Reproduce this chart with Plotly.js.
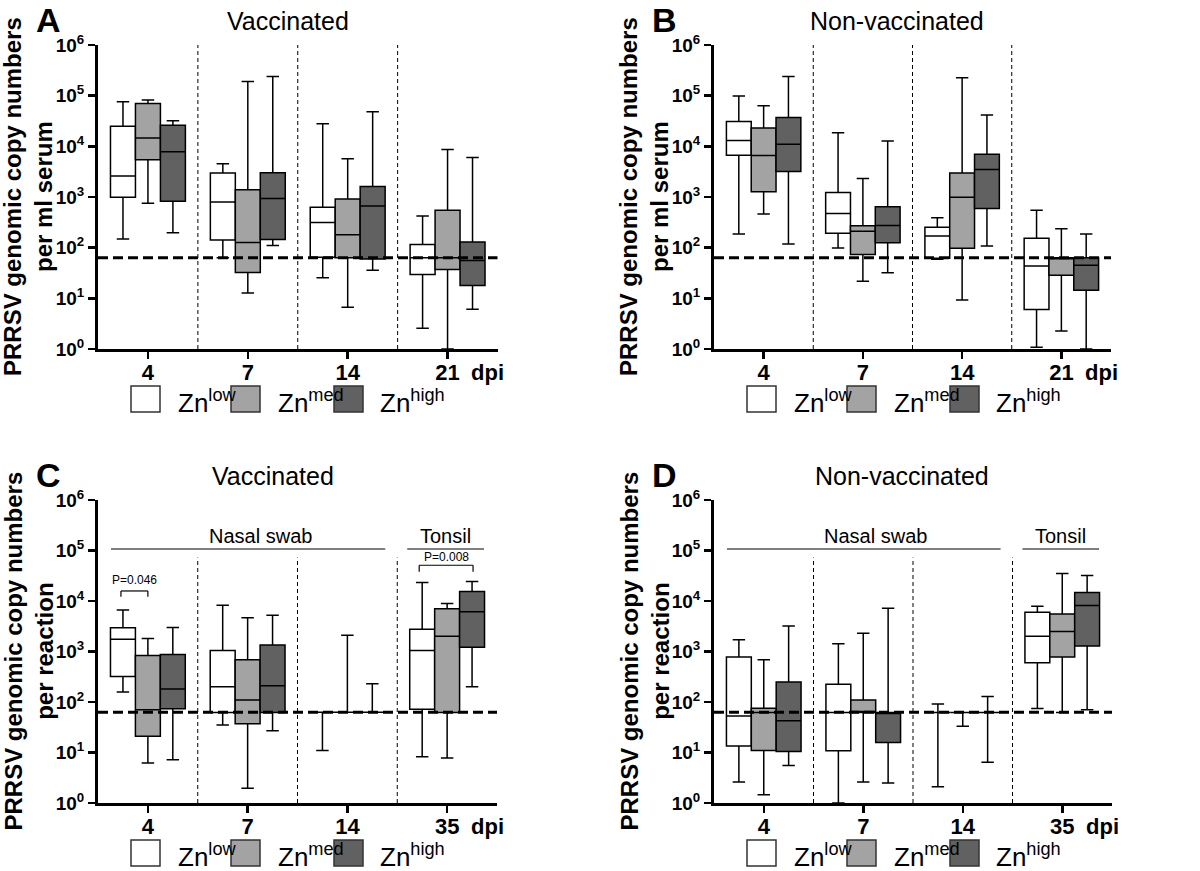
<!DOCTYPE html>
<html>
<head>
<meta charset="utf-8">
<script src="https://cdn.plot.ly/plotly-3.0.1.min.js"></script>
<style>
html,body{margin:0;padding:0;background:#fff;}
#chart{width:1200px;height:871px;}
</style>
</head>
<body>
<div id="chart"></div>
<script>
// ---------------- data ----------------
const serumDpi = ['4', '7', '14', '21'];
const swabDpi = ['4', '7', '14', '35'];
const groupKeys = ['low', 'med', 'high'];
const groupLabels = ['Zn<sup>low</sup>', 'Zn<sup>med</sup>', 'Zn<sup>high</sup>'];
const groupFills = ['#ffffff', '#a3a3a3', '#616161'];
const detectionLimit = 63;
const yTickVals = [1, 10, 100, 1000, 10000, 100000, 1000000];
const yTickText = ['10<sup>0</sup>', '10<sup>1</sup>', '10<sup>2</sup>', '10<sup>3</sup>', '10<sup>4</sup>', '10<sup>5</sup>', '10<sup>6</sup>'];

// Panel A: vaccinated, serum   (rows: Zn low / med / high; columns: dpi 4, 7, 14, 21)
const vacSerumLower  = [[148, 63, 25.6, 2.56], [750, 12.7, 6.7, 1], [198, 110, 35.7, 6.1]];
const vacSerumQ1     = [[990, 142, 65, 29.7], [5450, 32.5, 63, 37], [820, 145, 60, 18]];
const vacSerumMedian = [[2600, 800, 315, 63], [14600, 127, 180, 63], [7800, 930, 665, 56]];
const vacSerumQ3     = [[25000, 2970, 625, 116], [70000, 1390, 910, 550], [26000, 3020, 1620, 129]];
const vacSerumUpper  = [[76000, 4550, 28000, 420], [82000, 191000, 5700, 8700], [32000, 240000, 48000, 6000]];

// Panel B: non-vaccinated, serum
const nonSerumLower  = [[186, 98, 59, 1.08], [460, 21.7, 9.3, 2.26], [118, 32, 108, 1]];
const nonSerumQ1     = [[6700, 192, 61.5, 6.0], [1270, 73, 97, 28.5], [3200, 125, 590, 14.4]];
const nonSerumMedian = [[13000, 475, 170, 43.5], [6600, 210, 985, 63], [11000, 275, 3470, 45]];
const nonSerumQ3     = [[31000, 1220, 253, 153], [23000, 272, 2960, 63], [37000, 645, 6960, 63]];
const nonSerumUpper  = [[98000, 18600, 390, 550], [63000, 2330, 226000, 237], [240000, 12700, 41500, 186]];

// Panel C: vaccinated, nasal swab (4, 7, 14) and tonsil (35)
const vacSwabLower  = [[158, 34.9, 11, 8.2], [6.2, 1.95, 63, 7.8], [7.2, 27, 63, 200]];
const vacSwabQ1     = [[320, 62, 63, 72], [21, 37, 63, 62], [73.5, 62, 63, 1220]];
const vacSwabMedian = [[1740, 200, 63, 1050], [70, 110, 63, 2000], [180, 210, 63, 6100]];
const vacSwabQ3     = [[2940, 1050, 63, 2770], [830, 684, 63, 7050], [870, 1350, 63, 15400]];
const vacSwabUpper  = [[6600, 8200, 63, 23200], [1810, 4650, 2100, 8900], [2990, 5200, 230, 24300]];

// Panel D: non-vaccinated, nasal swab and tonsil
const nonSwabLower  = [[2.6, 1, 2.1, 74], [1.46, 2.6, 33, 62], [5.5, 2.5, 6.4, 70]];
const nonSwabQ1     = [[13.4, 10.8, 62, 600], [11, 62, 62, 775], [10.5, 15.8, 62, 1290]];
const nonSwabMedian = [[53, 62, 62, 2000], [62, 62, 62, 2500], [42.5, 62, 62, 8100]];
const nonSwabQ3     = [[780, 224, 62, 6000], [75.5, 110, 62, 5500], [250, 62, 62, 14700]];
const nonSwabUpper  = [[1700, 1420, 91, 7900], [684, 2300, 62, 35000], [3200, 7200, 129, 32000]];

const pValueLabels = ['P=0.046', 'P=0.008'];
const sampleLabels = ['Nasal swab', 'Tonsil'];

// ---------------- layout helpers ----------------
const W = 1200, H = 871;
const FONT = '"Liberation Sans", Arial, Helvetica, sans-serif';
const px = v => v / W;
const py = v => 1 - v / H;

const panels = [
  {s: '', cats: serumDpi, lo: vacSerumLower, q1: vacSerumQ1, med: vacSerumMedian, q3: vacSerumQ3, hi: vacSerumUpper,
   letter: 'A', title: 'Vaccinated', ytitle: 'PRRSV genomic copy numbers<br>per ml serum',
   left: 98, right: 497.5, top: 45, bottom: 349, titleX: 288, sepTop: 1, swab: false},
  {s: '2', cats: serumDpi, lo: nonSerumLower, q1: nonSerumQ1, med: nonSerumMedian, q3: nonSerumQ3, hi: nonSerumUpper,
   letter: 'B', title: 'Non-vaccinated', ytitle: 'PRRSV genomic copy numbers<br>per ml serum',
   left: 714, right: 1111, top: 45, bottom: 349, titleX: 897, sepTop: 1, swab: false},
  {s: '3', cats: swabDpi, lo: vacSwabLower, q1: vacSwabQ1, med: vacSwabMedian, q3: vacSwabQ3, hi: vacSwabUpper,
   letter: 'C', title: 'Vaccinated', ytitle: 'PRRSV genomic copy numbers<br>per reaction',
   left: 98, right: 497, top: 500, bottom: 803, titleX: 273, sepTop: 0.81, swab: true, pvals: true},
  {s: '4', cats: swabDpi, lo: nonSwabLower, q1: nonSwabQ1, med: nonSwabMedian, q3: nonSwabQ3, hi: nonSwabUpper,
   letter: 'D', title: 'Non-vaccinated', ytitle: 'PRRSV genomic copy numbers<br>per reaction',
   left: 714, right: 1112, top: 500, bottom: 803, titleX: 902, sepTop: 0.81, swab: true, pvals: false}
];

const traces = [];
const layout = {
  width: W, height: H,
  margin: {l: 0, r: 0, t: 0, b: 0},
  paper_bgcolor: '#fff', plot_bgcolor: 'rgba(0,0,0,0)',
  font: {family: FONT, color: '#000'},
  showlegend: false,
  boxmode: 'group', boxgap: 0.25, boxgroupgap: 0,
  shapes: [], annotations: []
};

panels.forEach(p => {
  const xa = 'x' + p.s, ya = 'y' + p.s;
  groupKeys.forEach((g, gi) => {
    traces.push({
      type: 'box', xaxis: xa, yaxis: ya,
      x: p.cats,
      lowerfence: p.lo[gi], q1: p.q1[gi], median: p.med[gi], q3: p.q3[gi], upperfence: p.hi[gi],
      offsetgroup: g, name: groupLabels[gi],
      fillcolor: groupFills[gi],
      line: {color: '#000', width: 1.5},
      whiskerwidth: 0.5, boxpoints: false, hoverinfo: 'skip', showlegend: false
    });
  });

  layout['xaxis' + p.s] = {
    domain: [px(p.left), px(p.right)], anchor: ya,
    type: 'category', range: [-0.5, 3.5],
    showline: true, linewidth: 3, linecolor: '#000',
    ticks: 'outside', ticklen: 7, tickwidth: 2.5, tickcolor: '#000',
    ticklabelstandoff: -5,
    tickfont: {family: FONT, size: 22, weight: 700, color: '#000'},
    showgrid: false, zeroline: false, fixedrange: true
  };
  layout['yaxis' + p.s] = {
    domain: [py(p.bottom), py(p.top)], anchor: xa,
    type: 'log', range: [0, 6],
    tickmode: 'array', tickvals: yTickVals, ticktext: yTickText,
    showline: true, linewidth: 3, linecolor: '#000',
    ticks: 'outside', ticklen: 7, tickwidth: 2.5, tickcolor: '#000',
    tickfont: {family: FONT, size: 19, weight: 700, color: '#000'},
    showgrid: false, zeroline: false, fixedrange: true
  };

  // dashed group separators
  [0.5, 1.5, 2.5].forEach(k => layout.shapes.push({
    type: 'line', xref: xa, yref: ya + ' domain', x0: k, x1: k, y0: 0, y1: p.sepTop,
    line: {color: '#000', width: 1, dash: '4px,3px'}, layer: 'above'
  }));
  // detection limit
  layout.shapes.push({
    type: 'line', xref: xa + ' domain', yref: ya, x0: 0, x1: 1, y0: detectionLimit, y1: detectionLimit,
    line: {color: '#000', width: 3, dash: '10px,5px'}, layer: 'above'
  });

  // panel letter, title, y title, dpi label
  layout.annotations.push({
    xref: 'paper', yref: 'paper', x: px(p.left - 50), y: py(p.top - 25),
    text: '<b>' + p.letter + '</b>', showarrow: false, xanchor: 'center', yanchor: 'middle',
    font: {family: FONT, size: 34, color: '#000'}
  });
  layout.annotations.push({
    xref: 'paper', yref: 'paper', x: px(p.titleX), y: py(p.top - 24),
    text: p.title, showarrow: false, xanchor: 'center', yanchor: 'middle',
    font: {family: FONT, size: 25, color: '#000'}
  });
  layout.annotations.push({
    xref: 'paper', yref: 'paper', x: px(p.left - 70), y: py((p.top + p.bottom) / 2),
    text: '<b>' + p.ytitle + '</b>', showarrow: false, textangle: -90,
    xanchor: 'center', yanchor: 'middle',
    font: {family: FONT, size: 24, color: '#000'}
  });
  layout.annotations.push({
    xref: xa, yref: ya + ' domain', x: 3.4, y: 0, yshift: -23,
    text: '<b>dpi</b>', showarrow: false, xanchor: 'center', yanchor: 'middle',
    font: {family: FONT, size: 22, color: '#000'}
  });

  // legend row (swatches + labels)
  const swX = [33, 133, 236], txX = [78, 178, 280];
  groupKeys.forEach((g, gi) => {
    layout.shapes.push({
      type: 'rect', xref: 'paper', yref: 'paper',
      x0: px(p.left + swX[gi]), x1: px(p.left + swX[gi] + 29),
      y0: py(p.bottom + 37), y1: py(p.bottom + 63),
      fillcolor: groupFills[gi], line: {color: '#333', width: 1.5}
    });
    layout.annotations.push({
      xref: 'paper', yref: 'paper', x: px(p.left + txX[gi]), y: py(p.bottom + 52),
      text: groupLabels[gi], showarrow: false, xanchor: 'left', yanchor: 'middle',
      font: {family: FONT, size: 26, color: '#000'}
    });
  });

  if (p.swab) {
    // Nasal swab / Tonsil bars
    const barY = 1.07e5;
    [[-0.37, 2.38], [2.6, 3.37]].forEach((seg, si) => {
      layout.shapes.push({
        type: 'line', xref: xa, yref: ya, x0: seg[0], x1: seg[1], y0: barY, y1: barY,
        line: {color: '#000', width: 1.2}
      });
      layout.annotations.push({
        xref: xa, yref: ya, x: (seg[0] + seg[1]) / 2 + (si === 0 ? 0.12 : 0), y: 5.29,
        text: sampleLabels[si], showarrow: false, xanchor: 'center', yanchor: 'middle',
        font: {family: FONT, size: 20, color: '#000'}
      });
    });
  }
  if (p.pvals) {
    const brackets = [
      {x0: -0.27, x1: 0.0, top: 1.58e4, leg: 1.22e4, ty: 4.41},
      {x0: 2.72, x1: 3.26, top: 5.1e4, leg: 3.8e4, ty: 4.87}
    ];
    brackets.forEach((b, bi) => {
      [[b.x0, b.x1, b.top, b.top], [b.x0, b.x0, b.top, b.leg], [b.x1, b.x1, b.top, b.leg]].forEach(l => {
        layout.shapes.push({
          type: 'line', xref: xa, yref: ya, x0: l[0], x1: l[1], y0: l[2], y1: l[3],
          line: {color: '#000', width: 1.2}
        });
      });
      layout.annotations.push({
        xref: xa, yref: ya, x: (b.x0 + b.x1) / 2, y: b.ty,
        text: pValueLabels[bi], showarrow: false, xanchor: 'center', yanchor: 'middle',
        font: {family: FONT, size: 12, color: '#000'}
      });
    });
  }
});

Plotly.newPlot('chart', traces, layout, {staticPlot: true, displayModeBar: false});
</script>
</body>
</html>
